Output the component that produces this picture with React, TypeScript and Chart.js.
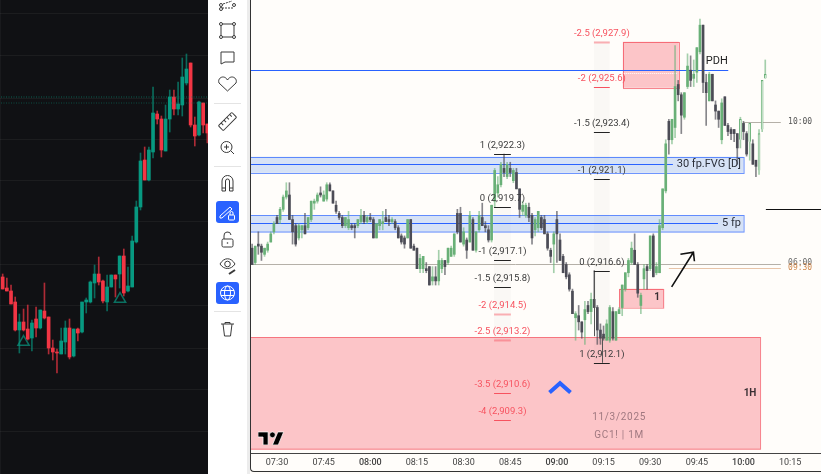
import React, { useEffect, useRef } from "react";
import { Chart, registerables } from "chart.js";

Chart.register(...registerables);

// ---------- left (dark) chart: open, high, low, close ----------
const leftCandles: number[][] = [
  [2922.3,2922.6,2921.1,2921.1],[2921.2,2922.2,2920.9,2920.9],[2920.9,2921.5,2919.6,2919.6],[2919.8,2920.3,2916.9,2917.0],
  [2917.0,2918.6,2914.7,2917.8],[2917.8,2919.1,2916.9,2917.0],[2917.1,2919.5,2916.0,2916.1],[2916.2,2918.0,2914.9,2917.7],
  [2918.1,2919.3,2916.3,2917.2],[2917.2,2919.0,2917.1,2919.0],[2918.9,2921.7,2918.1,2918.2],[2918.3,2918.3,2914.6,2915.2],
  [2915.2,2916.0,2914.0,2914.8],[2914.8,2915.1,2912.7,2914.7],[2914.6,2917.2,2914.6,2915.9],[2915.8,2917.9,2914.6,2917.2],
  [2917.2,2918.1,2914.1,2914.3],[2914.4,2917.1,2914.3,2917.1],[2917.1,2917.2,2915.9,2916.7],[2916.8,2919.8,2916.7,2919.8],
  [2919.8,2920.2,2918.7,2920.0],[2919.8,2921.9,2919.7,2921.8],[2921.7,2923.5,2920.2,2922.6],[2922.6,2924.3,2921.5,2921.8],
  [2921.9,2922.0,2919.7,2919.9],[2919.8,2922.5,2918.9,2921.3],[2921.3,2922.5,2921.3,2922.5],[2922.5,2922.5,2920.3,2922.1],
  [2922.6,2924.4,2921.2,2924.4],[2924.4,2925.1,2920.4,2920.7],[2920.9,2923.3,2920.8,2921.4],[2921.3,2926.4,2921.3,2925.9],
  [2925.8,2929.9,2925.7,2929.3],[2929.3,2934.7,2929.0,2933.9],[2934.0,2935.3,2932.0,2932.0],[2932.0,2935.3,2931.9,2935.0],
  [2934.8,2941.3,2934.2,2938.7],[2938.6,2938.9,2937.6,2938.1],[2938.1,2938.4,2934.3,2935.0],[2934.9,2939.5,2934.9,2938.1],
  [2938.1,2941.0,2936.8,2940.3],[2940.3,2941.0,2938.5,2939.1],[2939.1,2941.8,2938.5,2939.6],[2939.5,2944.2,2938.4,2942.3],
  [2941.7,2944.6,2941.5,2943.1],[2943.7,2943.7,2937.3,2937.5],[2937.5,2938.3,2935.4,2936.4],[2936.5,2939.9,2936.4,2939.8],
  [2939.7,2939.7,2936.7,2937.5],[2937.6,2937.6,2935.7,2936.7],
];
const leftGridPrices = [2948.7,2944.4,2940.2,2936.1,2931.9,2927.8,2923.6,2919.4,2915.2,2911.0,2906.8];
const leftDottedPrices = [2940.3,2939.7];
const leftTriangles = [{ x: 5, y: 2915.8 },{ x: 28.1, y: 2920.1 }];

// ---------- right (light) chart: 1-minute candles from 07:22, open, high, low, close ----------
const morningCandles: number[][] = [
  [2917.7,2917.9,2916.9,2916.9],[2917.0,2917.8,2916.9,2917.8],[2917.9,2918.5,2917.4,2917.8],[2917.8,2917.9,2917.1,2917.5],
  [2917.4,2917.7,2917.3,2917.7],[2917.6,2918.0,2917.5,2917.9],[2918.0,2918.5,2918.0,2918.4],[2918.5,2919.0,2918.4,2918.9],
  [2919.2,2919.3,2918.9,2918.9],[2919.1,2919.7,2918.9,2919.6],[2919.6,2920.3,2919.5,2920.2],[2920.2,2920.9,2920.1,2920.5],
  [2920.3,2920.9,2919.1,2919.1],[2919.1,2919.3,2917.9,2918.5],[2918.8,2918.9,2917.8,2917.9],[2918.2,2918.9,2918.1,2918.8],
  [2918.6,2918.8,2918.2,2918.8],[2918.8,2919.4,2918.4,2918.4],[2918.7,2919.2,2918.6,2919.2],[2919.1,2920.0,2919.0,2920.0],
  [2919.9,2920.1,2919.6,2920.0],[2920.0,2920.4,2919.9,2920.3],[2920.4,2920.7,2920.2,2920.3],[2920.0,2920.5,2920.0,2920.3],
  [2920.1,2920.9,2920.0,2920.8],[2920.8,2920.9,2920.5,2920.5],[2920.5,2920.5,2919.9,2919.9],[2919.8,2920.0,2919.4,2919.5],
  [2919.4,2919.5,2919.1,2919.2],[2919.2,2919.3,2918.7,2918.8],[2918.8,2919.2,2918.7,2919.2],[2918.7,2919.5,2918.6,2919.1],
  [2918.8,2918.9,2918.6,2918.7],[2918.8,2918.9,2918.2,2918.7],[2918.8,2919.1,2918.7,2919.1],[2919.0,2919.6,2918.9,2919.3],
  [2919.3,2919.5,2918.9,2919.0],[2919.0,2919.3,2918.9,2919.2],[2919.2,2919.4,2919.0,2919.1],[2919.1,2919.2,2918.2,2918.2],
  [2918.2,2918.9,2918.2,2918.9],[2918.8,2919.1,2918.6,2919.1],[2918.9,2919.5,2918.6,2919.0],[2919.2,2919.6,2919.0,2919.0],
  [2919.1,2919.3,2918.8,2919.0],[2919.0,2919.2,2918.9,2919.1],[2919.0,2919.1,2918.6,2918.7],[2918.7,2918.8,2918.2,2918.2],
  [2918.3,2918.4,2917.9,2918.0],[2918.2,2918.3,2917.7,2917.9],[2918.2,2919.1,2918.2,2919.1],[2919.1,2919.1,2917.7,2917.7],
  [2917.8,2917.9,2917.6,2917.6],[2917.7,2917.7,2916.7,2916.7],[2916.7,2917.4,2916.5,2917.2],
];
const midCandles: number[][] = [
  [2916.7,2917.3,2916.5,2917.3],[2916.7,2917.0,2916.5,2916.6],[2916.8,2916.8,2915.9,2915.9],[2916.1,2916.8,2915.9,2916.3],
  [2916.3,2916.8,2915.9,2916.1],[2916.1,2917.6,2915.9,2917.1],[2916.7,2917.2,2916.5,2917.1],[2917.1,2917.1,2916.4,2916.8],
  [2917.0,2917.7,2916.9,2917.7],[2917.3,2917.8,2917.3,2917.7],[2917.4,2918.4,2917.3,2918.4],[2919.4,2919.6,2918.4,2918.5],
  [2919.4,2919.7,2918.0,2918.0],[2917.9,2918.7,2917.8,2918.5],[2918.1,2918.2,2917.2,2917.6],[2918.0,2919.5,2918.0,2919.3],
  [2919.1,2919.2,2917.6,2917.6],[2917.6,2918.5,2917.5,2918.5],[2918.6,2919.5,2918.5,2919.3],[2919.2,2919.9,2918.8,2918.8],
  [2918.8,2919.0,2918.5,2918.7],[2918.6,2918.8,2918.0,2918.1],[2918.1,2919.8,2918.0,2919.8],[2920.0,2921.6,2919.7,2921.5],
  [2920.4,2921.2,2920.2,2920.8],[2920.8,2921.9,2920.7,2921.8],[2921.6,2922.3,2921.2,2921.4],[2921.2,2921.9,2921.1,2921.8],
  [2921.6,2921.9,2921.2,2921.4],[2921.0,2921.6,2920.9,2921.5],[2921.4,2921.6,2920.6,2920.6],[2920.6,2920.6,2919.2,2919.6],
  [2919.5,2920.0,2919.3,2919.8],[2919.3,2919.9,2919.2,2919.8],[2919.7,2919.9,2919.0,2919.2],[2919.3,2919.4,2917.9,2918.2],
  [2918.6,2919.2,2918.3,2919.1],[2918.7,2919.5,2918.5,2919.5],[2919.2,2919.3,2918.6,2918.7],[2919.1,2919.3,2918.4,2918.4],
  [2918.4,2918.5,2917.6,2917.7],[2917.6,2917.7,2917.0,2917.3],[2917.9,2918.5,2916.5,2918.4],[2919.1,2919.5,2917.0,2918.4],
  [2918.1,2918.4,2917.1,2917.1],[2917.3,2917.4,2916.5,2916.5],[2916.9,2917.0,2916.2,2916.3],[2916.4,2916.5,2915.6,2915.7],
  [2915.6,2915.7,2914.5,2914.5],[2914.3,2914.6,2913.2,2914.5],[2914.4,2914.9,2913.7,2914.1],[2914.1,2914.1,2913.3,2913.6],
  [2914.2,2915.1,2913.0,2914.7],[2914.9,2915.1,2914.5,2914.6],[2914.6,2915.5,2914.0,2915.2],
];
const lateCandles: number[][] = [
  [2915.2,2916.6,2914.8,2914.8],[2914.8,2914.9,2913.0,2913.7],[2913.7,2914.0,2913.0,2913.3],[2913.5,2913.9,2913.2,2913.3],
  [2913.2,2914.2,2913.2,2914.0],[2913.2,2914.9,2913.1,2914.8],[2914.6,2914.8,2913.2,2913.3],[2913.2,2914.6,2913.2,2914.6],
  [2914.5,2914.8,2914.5,2914.7],[2914.8,2915.9,2914.4,2915.9],[2915.7,2916.5,2915.6,2916.5],[2916.5,2917.2,2916.3,2917.1],
  [2917.0,2918.0,2916.9,2917.7],[2917.6,2918.4,2916.9,2916.9],[2916.9,2917.0,2915.3,2915.5],[2914.9,2915.5,2914.5,2915.4],
  [2916.2,2916.9,2915.7,2916.7],[2916.8,2916.9,2915.7,2916.6],[2916.7,2918.3,2916.6,2918.3],[2918.3,2918.4,2916.3,2916.3],
  [2916.5,2917.0,2916.4,2916.8],[2916.5,2919.1,2916.5,2918.8],[2918.7,2920.6,2918.6,2920.6],[2920.5,2923.0,2920.4,2922.8],
  [2923.9,2924.0,2922.3,2923.0],[2923.0,2924.0,2922.8,2924.0],[2923.6,2927.6,2923.1,2925.6],[2925.7,2925.9,2924.9,2925.2],
  [2925.2,2925.3,2923.3,2924.2],[2924.1,2925.3,2924.0,2925.3],[2925.6,2927.2,2925.5,2926.6],[2926.4,2927.1,2925.6,2925.9],
  [2926.0,2926.9,2925.6,2926.2],[2926.3,2927.5,2925.8,2927.5],[2927.3,2928.9,2927.2,2928.6],[2928.6,2928.6,2925.3,2925.8],
  [2925.8,2926.2,2923.7,2925.3],[2924.9,2926.3,2924.9,2926.2],[2926.2,2926.2,2924.9,2924.9],[2924.7,2924.9,2924.0,2924.4],
  [2924.4,2924.4,2923.6,2924.0],[2923.0,2925.0,2922.8,2924.8],[2925.1,2925.1,2923.7,2923.7],[2923.7,2923.8,2923.2,2923.4],
  [2923.5,2923.6,2923.0,2923.3],[2923.5,2923.5,2922.9,2923.3],[2923.3,2923.3,2921.8,2922.6],[2923.0,2924.1,2922.6,2924.0],
  [2923.8,2923.9,2923.0,2923.4],[2923.3,2923.4,2922.2,2922.3],[2922.9,2923.8,2922.0,2923.8],[2922.8,2923.0,2921.8,2921.8],
  [2922.0,2922.0,2921.2,2921.7],[2921.5,2923.5,2921.3,2923.3],[2923.5,2925.9,2923.4,2925.9],[2926.0,2926.9,2926.0,2926.2],
];
const rightCandles = [...morningCandles, ...midCandles, ...lateCandles];
const firstMinute = 442; // 07:22
const hollowMinutes = [599, 602, 605, 606, 607];

// fib levels: [label, price, kind]
const fibColumnA = [519.8, 525.2];
const fibColumnB = [551.9, 557.0];
const fibA: [string, number, string][] = [
  ["1 (2,922.3)", 2922.3, "dark"],["0 (2,919.7)", 2919.7, "dark"],["-1 (2,917.1)", 2917.1, "dark"],["-1.5 (2,915.8)", 2915.8, "dark"],
  ["-2 (2,914.5)", 2914.5, "pale"],["-2.5 (2,913.2)", 2913.2, "pale"],["-3.5 (2,910.6)", 2910.6, "red"],["-4 (2,909.3)", 2909.3, "red"],
];
const fibB: [string, number, string][] = [
  ["-2.5 (2,927.9)", 2927.8, "pale"],["-2 (2,925.6)", 2925.6, "red"],["-1.5 (2,923.4)", 2923.4, "dark"],["-1 (2,921.1)", 2921.1, "dark"],
  ["0 (2,916.6)", 2916.6, "dark"],["1 (2,912.1)", 2912.1, "dark"],
];
const fibBands: [number[], number, number][] = [
  [fibColumnA, 2919.7, 2913.2],
  [fibColumnB, 2927.8, 2912.1],
];
// zones: [minute from, minute to, price top, price bottom, kind]
const zones: [number, number, number, number, string][] = [
  [441.3, 600, 2922.17, 2921.39, "blue"],
  [441.3, 600, 2919.3, 2918.49, "blue"],
  [441.3, 605.3, 2913.34, 2907.88, "red"],
  [560.1, 574.3, 2915.72, 2914.81, "red"],
  [561.2, 579.2, 2927.79, 2925.54, "red"],
];
// lines: [minute from, minute to, price, colour, dash]
const levelLines: [number, number, number, string, number[]][] = [
  [441.3, 595.1, 2926.39, "#2962ff", []],
  [561.5, 578.5, 2926.28, "#ffffff", [1, 1]],
  [441.3, 577.3, 2921.8, "#2962ff", []],
  [441.3, 591.8, 2918.91, "#2962ff", []],
  [441.3, 612, 2916.91, "#b5b0a8", []],
  [576, 612, 2916.72, "#e8c4a8", []],
  [600, 612, 2923.86, "#b5b0a8", []],
  [607.2, 625, 2919.6, "#111111", []],
];
const connectors: [number, number, number][] = [
  [551.9, 2916.6, 2913.4],
  [554.5, 2913.4, 2912.1],
];
// free texts: [text, minute, price, align, font, colour]
const notes: [string, number, number, CanvasTextAlign, string, string][] = [
  ["30 fp.FVG [D]", 599.2, 2921.8, "right", "11px Roboto", "#2b2f3a"],
  ["5 fp", 599.2, 2918.91, "right", "11px Roboto", "#2b2f3a"],
  ["PDH", 587.9, 2926.85, "left", "11px Roboto", "#222222"],
  ["1H", 602.1, 2910.62, "center", "bold 10px Roboto", "#3a3034"],
  ["1", 572.2, 2915.31, "center", "bold 10px Roboto", "#3a3034"],
  ["11/3/2025", 560, 2909.42, "center", "10px Roboto", "rgba(120,85,95,0.7)"],
  ["GC1! | 1M", 560, 2908.54, "center", "10px Roboto", "rgba(120,85,95,0.7)"],
  ["10:00", 618.2, 2923.86, "center", "8px 'DejaVu Sans Mono'", "#555555"],
  ["06:00", 618.2, 2916.96, "center", "8px 'DejaVu Sans Mono'", "#666666"],
  ["09:30", 618.2, 2916.72, "center", "8px 'DejaVu Sans Mono'", "#d08a50"],
];
const arrowTail = { m: 576.9, p: 2915.81 };
const arrowHead = { m: 583.9, p: 2917.5 };
const chevron = { m: 541, p: 2910.86 };

const hhmm = (v: number) => {
  const h = Math.floor(v / 60);
  const m = v % 60;
  return `${String(h).padStart(2, "0")}:${String(m).padStart(2, "0")}`;
};

const rightOverlay = {
  id: "rightOverlay",
  beforeDatasetsDraw(chart: any) {
    const { ctx } = chart;
    const x = chart.scales.x;
    const y = chart.scales.y;
    ctx.save();
    fibBands.forEach(([col, top, bot]) => {
      ctx.fillStyle = "rgba(120,110,100,0.035)";
      ctx.fillRect(x.getPixelForValue(col[0]), y.getPixelForValue(top), x.getPixelForValue(col[1]) - x.getPixelForValue(col[0]), y.getPixelForValue(bot) - y.getPixelForValue(top));
    });
    zones.forEach(([m1, m2, top, bot, kind]) => {
      const l = x.getPixelForValue(m1), r = x.getPixelForValue(m2), t = y.getPixelForValue(top), b = y.getPixelForValue(bot);
      ctx.fillStyle = kind === "blue" ? "rgba(50,120,230,0.2)" : "rgba(247,82,95,0.32)";
      ctx.strokeStyle = kind === "blue" ? "rgba(41,98,255,0.7)" : "rgba(242,54,69,0.62)";
      ctx.lineWidth = 1;
      ctx.fillRect(l, t, r - l, b - t);
      ctx.strokeRect(Math.round(l) + 0.5, Math.round(t) + 0.5, r - l, b - t);
    });
    levelLines.forEach(([m1, m2, p, color, dash]) => {
      ctx.strokeStyle = color;
      ctx.lineWidth = 1;
      ctx.setLineDash(dash);
      const py = Math.round(y.getPixelForValue(p)) + 0.5;
      ctx.beginPath();
      ctx.moveTo(x.getPixelForValue(m1), py);
      ctx.lineTo(x.getPixelForValue(m2), py);
      ctx.stroke();
    });
    ctx.setLineDash([]);
    ctx.restore();
  },
  afterDatasetsDraw(chart: any) {
    const { ctx } = chart;
    const x = chart.scales.x;
    const y = chart.scales.y;
    ctx.save();
    ctx.strokeStyle = "#555555";
    ctx.lineWidth = 1;
    connectors.forEach(([m, p1, p2]) => {
      const px = Math.round(x.getPixelForValue(m)) + 0.5;
      ctx.beginPath();
      ctx.moveTo(px, y.getPixelForValue(p1));
      ctx.lineTo(px, y.getPixelForValue(p2));
      ctx.stroke();
    });
    const drawFib = (list: [string, number, string][], col: number[]) => {
      const l = x.getPixelForValue(col[0]), r = x.getPixelForValue(col[1]);
      list.forEach(([label, price, kind]) => {
        const py = Math.round(y.getPixelForValue(price)) + 0.5;
        const red = kind !== "dark";
        ctx.strokeStyle = kind === "pale" ? "rgba(247,82,95,0.45)" : red ? "#f7525f" : "#222222";
        ctx.lineWidth = kind === "pale" ? 2 : 1;
        ctx.beginPath();
        ctx.moveTo(l, py);
        ctx.lineTo(r, py);
        ctx.stroke();
        ctx.font = "9.5px Roboto";
        ctx.fillStyle = red ? "#f7525f" : "#3a3a3a";
        ctx.textAlign = "center";
        ctx.textBaseline = "middle";
        ctx.fillText(label, (l + r) / 2, py - 9);
      });
    };
    drawFib(fibA, fibColumnA);
    drawFib(fibB, fibColumnB);
    notes.forEach(([text, m, p, align, font, color]) => {
      ctx.font = font;
      ctx.fillStyle = color;
      ctx.textAlign = align;
      ctx.textBaseline = "middle";
      (ctx as any).letterSpacing = text.includes("2025") || text.startsWith("GC1") ? "0.7px" : "0px";
      ctx.fillText(text, x.getPixelForValue(m), y.getPixelForValue(p));
    });
    (ctx as any).letterSpacing = "0px";
    // arrow
    const ax = x.getPixelForValue(arrowHead.m), ay = y.getPixelForValue(arrowHead.p);
    ctx.strokeStyle = "#111111";
    ctx.lineWidth = 1.6;
    ctx.beginPath();
    ctx.moveTo(x.getPixelForValue(arrowTail.m), y.getPixelForValue(arrowTail.p));
    ctx.lineTo(ax, ay);
    ctx.moveTo(ax - 13, ay + 2);
    ctx.lineTo(ax, ay);
    ctx.lineTo(ax + 1, ay + 9);
    ctx.stroke();
    // chevron
    const cx = x.getPixelForValue(chevron.m), cy = y.getPixelForValue(chevron.p);
    ctx.strokeStyle = "#2962ff";
    ctx.lineWidth = 4;
    ctx.lineCap = "square";
    ctx.beginPath();
    ctx.moveTo(cx - 9, cy + 3);
    ctx.lineTo(cx, cy - 5);
    ctx.lineTo(cx + 9, cy + 3);
    ctx.stroke();
    ctx.restore();
  },
};

function LeftChart() {
  const ref = useRef<HTMLCanvasElement>(null);
  useEffect(() => {
    const green = "#089981";
    const red = "#f23645";
    const up = leftCandles.map((c) => c[3] >= c[0]);
    const chart = new Chart(ref.current!, {
      type: "bar",
      data: {
        datasets: [
          {
            type: "line",
            data: [{ x: -1, y: leftDottedPrices[0] }, { x: 50, y: leftDottedPrices[0] }],
            borderColor: "rgba(8,153,129,0.6)", borderWidth: 1, borderDash: [1, 1.5], pointRadius: 0,
          },
          {
            type: "line",
            data: [{ x: -1, y: leftDottedPrices[1] }, { x: 50, y: leftDottedPrices[1] }],
            borderColor: "rgba(8,153,129,0.45)", borderWidth: 1, borderDash: [1, 1.5], pointRadius: 0,
          },
          {
            type: "bar",
            data: leftCandles.map((c, i) => ({ x: i, y: [c[2], c[1]] })),
            backgroundColor: up.map((u) => (u ? "rgba(8,153,129,0.65)" : "rgba(242,54,69,0.7)")),
            barThickness: 1, grouped: false,
          },
          {
            type: "bar",
            data: leftCandles.map((c, i) => ({ x: i, y: [Math.min(c[0], c[3]), Math.max(c[0], c[3])] })),
            backgroundColor: up.map((u) => (u ? green : red)),
            barThickness: 3, grouped: false, minBarLength: 1,
          },
          {
            type: "scatter",
            data: leftTriangles,
            pointStyle: "triangle", pointRadius: 6.5, backgroundColor: "rgba(0,0,0,0)",
            borderColor: "rgba(8,153,129,0.7)", borderWidth: 1.5,
          },
        ] as any,
      },
      options: {
        animation: false, responsive: false, maintainAspectRatio: false,
        layout: { padding: 0, autoPadding: false },
        plugins: { legend: { display: false }, tooltip: { enabled: false } },
        scales: {
          x: {
            type: "linear", min: -0.64, max: 49.16, offset: false,
            afterBuildTicks: (s: any) => { s.ticks = [{ value: 28.1 }]; },
            afterFit: (s: any) => { s.height = 0; s.paddingLeft = 0; s.paddingRight = 0; },
            ticks: { display: false },
            grid: { color: "rgba(255,255,255,0.04)", drawTicks: false },
            border: { display: false },
          },
          y: {
            min: 2902.6, max: 2950,
            afterBuildTicks: (s: any) => { s.ticks = leftGridPrices.map((value) => ({ value })); },
            afterFit: (s: any) => { s.width = 0; s.paddingTop = 0; s.paddingBottom = 0; },
            ticks: { display: false },
            grid: { color: "rgba(255,255,255,0.05)", drawTicks: false },
            border: { display: false },
          },
        },
      } as any,
    });
    return () => chart.destroy();
  }, []);
  return <canvas ref={ref} width={208} height={474} style={{ display: "block", width: 208, height: 474 }} />;
}

function RightChart() {
  const ref = useRef<HTMLCanvasElement>(null);
  useEffect(() => {
    const up = rightCandles.map((c) => c[3] >= c[0]);
    const hollow = rightCandles.map((_, i) => hollowMinutes.includes(firstMinute + i));
    const chart = new Chart(ref.current!, {
      type: "bar",
      data: {
        datasets: [
          {
            data: rightCandles.map((c, i) => ({ x: firstMinute + i, y: [c[2], c[1]] })),
            backgroundColor: up.map((u) => (u ? "rgba(104,176,118,0.6)" : "rgba(70,70,80,0.65)")),
            barThickness: 1, grouped: false, order: 2,
          },
          {
            data: rightCandles.map((c, i) => ({ x: firstMinute + i, y: [Math.min(c[0], c[3]), Math.max(c[0], c[3])] })),
            backgroundColor: up.map((u, i) => (hollow[i] ? "#fffdfa" : u ? "#69b077" : "#4c4c56")),
            borderColor: hollow.map((h) => (h ? "#69b077" : "rgba(0,0,0,0)")),
            borderWidth: hollow.map((h) => (h ? 1 : 0)),
            barThickness: 2, grouped: false, minBarLength: 1, order: 1,
          },
        ] as any,
      },
      options: {
        animation: false, responsive: false, maintainAspectRatio: false,
        layout: { padding: 0 },
        plugins: { legend: { display: false }, tooltip: { enabled: false } },
        scales: {
          x: {
            type: "linear", min: 441.32, max: 624.92, offset: false,
            afterFit: (s: any) => { s.height = 21; s.paddingLeft = 0; s.paddingRight = 0; },
            grid: { display: false, drawTicks: false },
            border: { display: true, color: "#444444", width: 1 },
            ticks: {
              stepSize: 15, includeBounds: false, autoSkip: false, maxRotation: 0, padding: 4, color: "#444444",
              callback: (v: any) => hhmm(Number(v)),
              font: (c: any) => ({ family: "Roboto", size: 9, weight: c.tick && c.tick.value % 60 === 0 ? 500 : 400 }),
            },
          },
          y: {
            min: 2907.69, max: 2929.83,
            afterFit: (s: any) => { s.width = 0; },
            ticks: { display: false },
            grid: { display: false, drawTicks: false },
            border: { display: false },
          },
        },
      } as any,
      plugins: [rightOverlay as any],
    });
    return () => chart.destroy();
  }, []);
  return <canvas ref={ref} width={571} height={474} style={{ display: "block", width: 571, height: 474 }} />;
}

function Toolbar() {
  const s = { fill: "none", stroke: "#3a3a3a", strokeWidth: 1 };
  const w = { fill: "none", stroke: "#ffffff", strokeWidth: 1 };
  return (
    <svg width={42} height={474} viewBox="208 0 42 474" style={{ position: "absolute", left: 208, top: 0 }}>
      <rect x={208} y={0} width={39} height={474} fill="#ffffff" />
      <rect x={247} y={0} width={3} height={474} fill="#ececec" />
      {/* trend tool */}
      <path d="M222 8H234M223 4L232 1" {...s} strokeDasharray="2 1" />
      <circle cx={221} cy={9} r={1.5} {...s} /><circle cx={234} cy={5} r={1.5} {...s} /><circle cx={221} cy={5} r={1.5} {...s} />
      {/* rectangle */}
      <rect x={221} y={24} width={13} height={13} {...s} />
      {[[221, 24], [234, 24], [221, 37], [234, 37]].map(([x, y], i) => <circle key={i} cx={x} cy={y} r={1.5} fill="#fff" stroke="#3a3a3a" />)}
      {/* comment */}
      <path d="M221 52H234V62H225L221 64Z" {...s} />
      {/* heart */}
      <path d="M227.5 91L219 83C217 78 224 74 227.5 80C231 74 238 78 236 83Z" {...s} />
      <path d="M214 103.5H241M214 166.5H241M214 311.5H241" stroke="#e4e4e4" />
      {/* ruler */}
      <g transform="rotate(-45 227.5 121.5)">
        <rect x={218} y={118} width={19} height={7} rx={1} {...s} />
        <path d="M222 118v3M226 118v3M230 118v3M234 118v3" {...s} />
      </g>
      {/* zoom */}
      <circle cx={226.5} cy={147} r={5.5} {...s} />
      <path d="M226.5 144.500v5M224 147h5M231 151l3 3" {...s} />
      {/* magnet */}
      <path d="M222 191V181a5.500 5.500 0 0 1 11 0V191H229.500V181a2 2 0 0 0-4 0V191Z" {...s} />
      <path d="M222 188h3.500M229.500 188H233" {...s} />
      {/* pencil lock button */}
      <rect x={216} y={201} width={23} height={22} rx={3} fill="#2962ff" />
      <path d="M220 216L230 207L232 209L222 218H220Z" {...w} />
      <rect x={228.500} y={215} width={6} height={5} rx={1} {...w} />
      <path d="M230 215v-2a1.500 1.500 0 0 1 3 0v2" {...w} />
      {/* open lock */}
      <rect x={222} y={239} width={11} height={8} rx={1.5} {...s} />
      <path d="M224 239v-3a3.500 3.500 0 0 1 7 -1" {...s} />
      <circle cx={227.5} cy={243} r={0.8} fill="#3a3a3a" />
      {/* eye */}
      <path d="M220 264C224 257 231 257 235 264C231 270 224 270 220 264Z" {...s} />
      <circle cx={227.5} cy={264} r={2.800} {...s} />
      <path d="M229 274L235 270" stroke="#3a3a3a" strokeWidth={2} />
      {/* globe button */}
      <rect x={216} y={282} width={23} height={22} rx={3} fill="#2962ff" />
      <circle cx={227.5} cy={293} r={7} {...w} />
      <ellipse cx={227.5} cy={293} rx={3} ry={7} {...w} />
      <path d="M221 290.500H234M221 295.500H234" {...w} />
      {/* trash */}
      <path d="M221 324H234M223 324L224.500 336H230.500L232 324M225 324V322.500H230V324" {...s} />
    </svg>
  );
}

export default function App() {
  return (
    <div style={{ position: "absolute", left: 0, top: 0, width: 821, height: 474, overflow: "hidden", background: "#ffffff" }}>
      <div style={{ position: "absolute", left: 0, top: 0, width: 208, height: 474, background: "#101114" }}>
        <LeftChart />
      </div>
      <Toolbar />
      <div style={{ position: "absolute", left: 250, top: 0, width: 571, height: 474, background: "#fffdfa" }}>
        <RightChart />
        <svg width={26} height={16} viewBox="0 0 36 22" style={{ position: "absolute", left: 8, top: 429 }}>
          <path d="M14 22H7V11H0V4h14v18zM28 22h-8l7.500-18h8L28 22z" fill="#000" stroke="#fff" strokeWidth={1} />
          <circle cx={20} cy={8} r={4} fill="#000" stroke="#fff" strokeWidth={1} />
        </svg>
        <div style={{ position: "absolute", left: 0, top: 0, width: 571, height: 472, borderLeft: "1px solid #333", borderBottom: "1px solid #333", borderBottomLeftRadius: 4, boxSizing: "border-box", pointerEvents: "none" }} />
      </div>
    </div>
  );
}
